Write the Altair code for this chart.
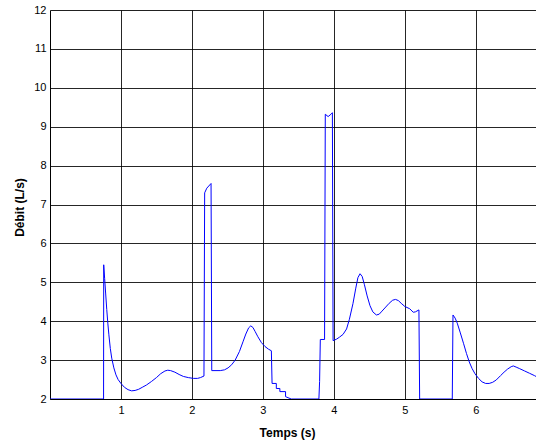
import altair as alt
import pandas as pd

# Flow-rate trace: time (s) and flow (L/s), read segment by segment
t = [
    # baseline, first spike and its decay
    0.0, 0.755, 0.757, 0.77, 0.785, 0.80, 0.815, 0.83, 0.85, 0.87, 0.90, 0.93,
    0.96, 1.00, 1.05, 1.10, 1.15, 1.20, 1.25, 1.30, 1.36, 1.43, 1.50, 1.56,
    1.62, 1.66, 1.70, 1.76, 1.82, 1.88, 1.95, 2.02, 2.08, 2.12, 2.17,
    # second spike and bump
    2.18, 2.21, 2.27, 2.28, 2.40, 2.46, 2.51, 2.56, 2.61, 2.67, 2.72, 2.76,
    2.80, 2.83, 2.86, 2.89, 2.93, 2.98, 3.03, 3.08, 3.12,
    # stepwise fall to zero flow
    3.13, 3.19, 3.19, 3.24, 3.24, 3.32, 3.32, 3.40, 3.79,
    # third spike and double bump
    3.80, 3.81, 3.87, 3.88, 3.92, 3.96, 3.98, 3.99, 4.04, 4.08, 4.13, 4.18,
    4.22, 4.27, 4.31, 4.34, 4.37, 4.40, 4.43, 4.47, 4.51, 4.55, 4.60, 4.64,
    4.68, 4.72, 4.78, 4.83, 4.87, 4.91, 4.95, 5.00, 5.07, 5.12, 5.15, 5.20,
    # pause, last spike and its decay
    5.21, 5.67, 5.68, 5.71, 5.74, 5.78, 5.83, 5.87, 5.91, 5.95, 5.99, 6.04,
    6.09, 6.14, 6.19, 6.24, 6.29, 6.35, 6.40, 6.45, 6.50, 6.53, 6.57, 6.62,
    6.69, 6.76, 6.83, 6.90,
]
q = [
    2.0, 2.0, 5.45, 5.1, 4.7, 4.3, 3.95, 3.65, 3.3, 3.05, 2.8, 2.62,
    2.5, 2.40, 2.30, 2.24, 2.21, 2.22, 2.25, 2.30, 2.36, 2.45, 2.55, 2.65,
    2.72, 2.74, 2.73, 2.69, 2.63, 2.58, 2.55, 2.53, 2.53, 2.55, 2.59,
    7.30, 7.42, 7.54, 2.73, 2.73, 2.75, 2.80, 2.88, 3.0, 3.22, 3.47, 3.67,
    3.83, 3.88, 3.84, 3.74, 3.60, 3.45, 3.35, 3.28, 3.24,
    2.40, 2.40, 2.27, 2.27, 2.19, 2.19, 2.06, 2.0, 2.0,
    2.45, 3.53, 3.53, 9.32, 9.26, 9.32, 9.36, 3.50, 3.54, 3.59, 3.66, 3.80,
    4.05, 4.45, 4.85, 5.12, 5.22, 5.15, 4.95, 4.65, 4.40, 4.24, 4.16, 4.18,
    4.26, 4.34, 4.46, 4.54, 4.56, 4.53, 4.46, 4.38, 4.32, 4.23, 4.24, 4.29,
    2.0, 2.0, 4.16, 4.08, 3.95, 3.72, 3.42, 3.17, 2.95, 2.78, 2.65, 2.53,
    2.44, 2.40, 2.40, 2.43, 2.49, 2.60, 2.69, 2.77, 2.83, 2.85, 2.82, 2.78,
    2.72, 2.66, 2.60, 2.53,
]

x_ticks = [1, 2, 3, 4, 5, 6]
y_ticks = [2, 3, 4, 5, 6, 7, 8, 9, 10, 11, 12]

df = pd.DataFrame({"t": t, "q": q, "i": range(len(t))})

font = "Liberation Sans"

chart = (
    alt.Chart(df)
    .mark_line(color="#0000ff", strokeWidth=1, clip=True, interpolate="linear")
    .encode(
        x=alt.X(
            "t:Q",
            scale=alt.Scale(domain=[0, 6.85], nice=False, zero=False),
            axis=alt.Axis(
                values=x_ticks,
                title="Temps (s)",
                titleFont=font,
                titleFontSize=12,
                titleFontWeight="bold",
                titleColor="black",
                titleX=237,
                titleY=37,
                titleBaseline="alphabetic",
                labelFont=font,
                labelFontSize=11,
                labelColor="black",
                labelPadding=5,
                ticks=False,
                domainColor="black",
                domainWidth=1,
                grid=True,
                gridColor="black",
                gridOpacity=0.85,
                gridWidth=1,
            ),
        ),
        y=alt.Y(
            "q:Q",
            scale=alt.Scale(domain=[2, 12], nice=False, zero=False),
            axis=alt.Axis(
                values=y_ticks,
                title="Débit (L/s)",
                titleFont=font,
                titleFontSize=12,
                titleFontWeight="bold",
                titleColor="black",
                titleX=-27,
                titleY=197,
                titleBaseline="alphabetic",
                labelFont=font,
                labelFontSize=11,
                labelColor="black",
                labelPadding=4,
                ticks=False,
                domainColor="black",
                domainWidth=1,
                grid=True,
                gridColor="black",
                gridOpacity=0.85,
                gridWidth=1,
            ),
        ),
        order="i:Q",
    )
    .properties(
        width=486,
        height=389,
        autosize=alt.AutoSizeParams(type="none"),
        padding={"left": 50, "top": 10, "right": 0, "bottom": 44},
    )
    .configure_view(stroke=None)
    .configure(background="white")
)

chart.save("out.html", embed_options={"renderer": "svg", "actions": False})
